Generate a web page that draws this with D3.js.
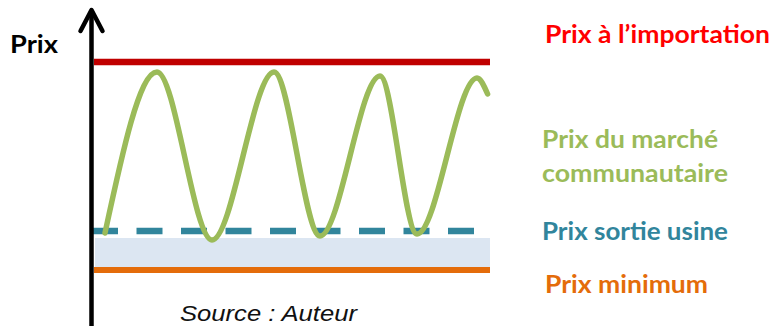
<!DOCTYPE html>
<html>
<head>
<meta charset="utf-8">
<script src="https://cdn.jsdelivr.net/npm/d3@7"></script>
<style>
  body { margin: 0; background: #fff; }
  svg { display: block; }
  text { font-family: Lato, "Open Sans", sans-serif; }
</style>
</head>
<body>
<svg id="chart" width="774" height="326"></svg>
<script>
// schematic price levels (arbitrary units, 0..100)
const levelNames = ['Prix à l\u2019importation', 'Prix sortie usine', 'Prix minimum']
const levelValues = [87.2, 19.6, 4]
const bandRange = [4.4, 16.8]

// community market price, oscillating between the levels
const marketTime = [3.25, 16.25, 30, 45.5, 57, 72, 81.25, 96.25, 98.9]
const marketPrice = [18.8, 83.2, 16, 83.2, 17.6, 81.6, 18.4, 80.8, 74.4]

const svg = d3.select('#chart')

const x = d3.scaleLinear().domain([0, 100]).range([92, 492])
const y = d3.scaleLinear().domain([0, 100]).range([280, 30])

const colors = {
  importLine: '#c00000',
  importText: '#ff0000',
  market: '#9bbb59',
  factory: '#31859c',
  band: '#dce6f2',
  minimum: '#e46c0a'
}

// band between minimum and factory price
svg.append('rect')
  .attr('x', x(0.75))
  .attr('y', y(bandRange[1]))
  .attr('width', x(99.5) - x(0.75))
  .attr('height', y(bandRange[0]) - y(bandRange[1]))
  .style('fill', colors.band)

// import price
svg.append('line')
  .attr('x1', x(0.5)).attr('x2', x(99.5))
  .attr('y1', y(levelValues[0])).attr('y2', y(levelValues[0]))
  .style('stroke', colors.importLine)
  .style('stroke-width', 6.5)

// minimum price
svg.append('line')
  .attr('x1', x(0.5)).attr('x2', x(99.5))
  .attr('y1', y(levelValues[2])).attr('y2', y(levelValues[2]))
  .style('stroke', colors.minimum)
  .style('stroke-width', 6)

// factory price (dashed)
svg.append('line')
  .attr('x1', x(0)).attr('x2', x(96))
  .attr('y1', y(levelValues[1])).attr('y2', y(levelValues[1]))
  .style('stroke', colors.factory)
  .style('stroke-width', 6.5)
  .style('stroke-dasharray', '26 18.5')

// market price curve
const line = d3.line()
  .x((d, i) => x(marketTime[i]))
  .y(d => y(d))
  .curve(d3.curveMonotoneX)

svg.append('path')
  .datum(marketPrice)
  .attr('d', line)
  .style('fill', 'none')
  .style('stroke', colors.market)
  .style('stroke-width', 5.5)
  .style('stroke-linecap', 'round')

// vertical axis with arrow
const axisX = x(0) - 0.5
svg.append('line')
  .attr('x1', axisX).attr('x2', axisX)
  .attr('y1', 11).attr('y2', 326)
  .style('stroke', '#000')
  .style('stroke-width', 4.5)

svg.append('path')
  .attr('d', `M${axisX - 11},${31} L${axisX},${10} L${axisX + 11},${31}`)
  .style('fill', 'none')
  .style('stroke', '#000')
  .style('stroke-width', 4.5)
  .style('stroke-linecap', 'round')
  .style('stroke-linejoin', 'round')

svg.append('text')
  .attr('x', 10).attr('y', 53)
  .attr('textLength', 48)
  .attr('lengthAdjust', 'spacingAndGlyphs')
  .style('font-size', '25px')
  .style('font-weight', 'bold')
  .style('fill', '#000')
  .text('Prix')

// labels on the right
const labels = [
  { text: levelNames[0], x: 545, y: 43, w: 225, color: colors.importText },
  { text: 'Prix du marché', x: 542, y: 148, w: 176, color: colors.market },
  { text: 'communautaire', x: 542, y: 182, w: 186, color: colors.market },
  { text: levelNames[1], x: 542, y: 240, w: 186, color: colors.factory },
  { text: levelNames[2], x: 545, y: 293, w: 163, color: colors.minimum }
]

labels.forEach(l => {
  svg.append('text')
    .attr('x', l.x)
    .attr('y', l.y)
    .attr('textLength', l.w)
    .attr('lengthAdjust', 'spacingAndGlyphs')
    .style('font-size', '24px')
    .style('font-weight', 'bold')
    .style('fill', l.color)
    .text(l.text)
})

svg.append('text')
  .attr('x', 180).attr('y', 321)
  .attr('textLength', 177)
  .attr('lengthAdjust', 'spacingAndGlyphs')
  .style('font-family', '"Liberation Sans", Arial, sans-serif')
  .style('font-style', 'italic')
  .style('font-size', '22px')
  .style('fill', '#111')
  .text('Source : Auteur')
</script>
</body>
</html>
